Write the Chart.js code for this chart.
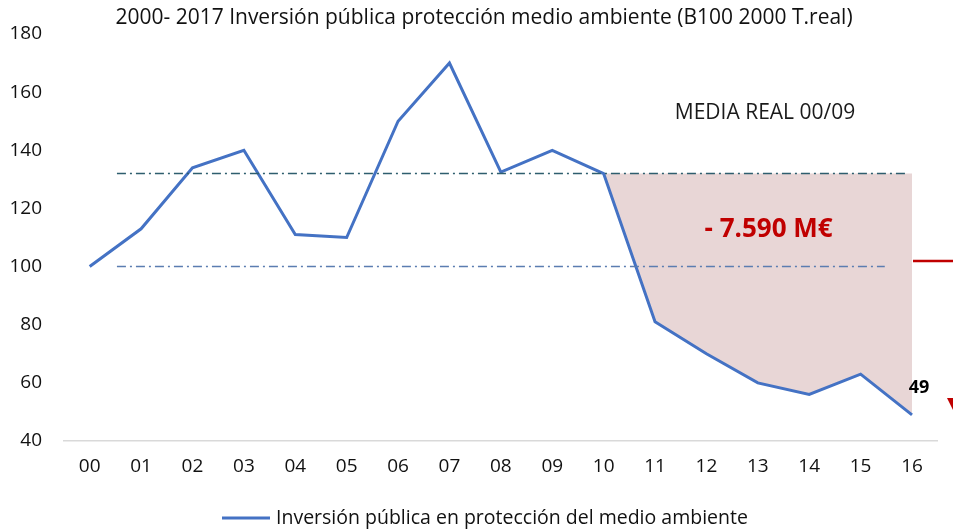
<!DOCTYPE html>
<html>
<head>
<meta charset="utf-8">
<script src="https://cdn.jsdelivr.net/npm/chart.js@4"></script>
<style>
  html, body { margin: 0; padding: 0; background: #fff; }
  #wrap { width: 953px; height: 531px; position: relative; }
</style>
</head>
<body>
<div id="wrap"><canvas id="c"></canvas></div>
<script>
// Years 2000-2016 (base 100 in 2000)
const years = ['00','01','02','03','04','05','06','07','08','09','10','11','12','13','14','15','16'];
const inversion = [100, 113, 134, 140, 111, 110, 150, 170, 132.5, 140, 132, 81, 70, 60, 56, 63, 49];
const mediaReal = 132;          // real average 00/09
const base = 100;
const firstGapYear = 10;        // shaded loss starts here
const lossLabel = '- 7.590 M€';
const mediaLabel = 'MEDIA REAL 00/09';
const titleText = '2000- 2017 Inversión pública protección medio ambiente (B100 2000 T.real)';
const legendText = 'Inversión pública en protección del medio ambiente';
const yTicks = [40, 60, 80, 100, 120, 140, 160, 180];

const FONT = "'Open Sans', 'Liberation Sans', sans-serif";
const LINE_COLOR = '#4472C4';

// Upper edge of the shaded area: the 00/09 average from 2010 onwards
const mediaEdge = years.map((_, i) => (i >= firstGapYear ? mediaReal : null));

const overlay = {
  id: 'overlay',
  afterDatasetsDraw(chart) {
    const { ctx, scales: { x, y } } = chart;
    ctx.save();
    // dash-dot reference lines
    ctx.lineWidth = 1.5;
    ctx.setLineDash([9, 4, 2, 4]);
    ctx.strokeStyle = '#2E5E6E';
    ctx.beginPath();
    ctx.moveTo(x.getPixelForValue(0.53), y.getPixelForValue(mediaReal));
    ctx.lineTo(x.getPixelForValue(15.92), y.getPixelForValue(mediaReal));
    ctx.stroke();
    ctx.strokeStyle = '#5B7DB1';
    ctx.beginPath();
    ctx.moveTo(x.getPixelForValue(0.53), y.getPixelForValue(base));
    ctx.lineTo(x.getPixelForValue(15.47), y.getPixelForValue(base));
    ctx.stroke();
    ctx.setLineDash([]);

    // red arrow stub on the right edge
    ctx.strokeStyle = '#C00000';
    ctx.lineWidth = 2.5;
    const ry = y.getPixelForValue(101.9);
    ctx.beginPath();
    ctx.moveTo(913, ry);
    ctx.lineTo(chart.width, ry);
    ctx.stroke();
    ctx.fillStyle = '#C00000';
    const ty = y.getPixelForValue(54.8);
    ctx.beginPath();
    ctx.moveTo(947, ty);
    ctx.lineTo(957, ty);
    ctx.lineTo(953, ty + 12);
    ctx.closePath();
    ctx.fill();

    // annotations
    ctx.textAlign = 'center';
    ctx.textBaseline = 'middle';
    ctx.fillStyle = '#1a1a1a';
    ctx.font = "21px " + FONT;
    ctx.fillText(mediaLabel, x.getPixelForValue(13.14), y.getPixelForValue(152.8));
    ctx.fillStyle = '#C00000';
    ctx.font = "bold 26px " + FONT;
    ctx.fillText(lossLabel, x.getPixelForValue(13.21), y.getPixelForValue(112.8));
    const last = inversion.length - 1;
    ctx.fillStyle = '#000';
    ctx.font = "bold 18px " + FONT;
    ctx.fillText(String(inversion[last]), x.getPixelForValue(last) + 7, y.getPixelForValue(inversion[last]) - 27);

    // title
    ctx.fillStyle = '#111';
    ctx.font = "21px " + FONT;
    ctx.fillText(titleText, 484, 18);

    // legend
    ctx.strokeStyle = LINE_COLOR;
    ctx.lineWidth = 3;
    ctx.beginPath();
    ctx.moveTo(222, 518);
    ctx.lineTo(270, 518);
    ctx.stroke();
    ctx.textAlign = 'left';
    ctx.font = "19.5px " + FONT;
    ctx.fillText(legendText, 276, 518);
    ctx.restore();
  }
};

new Chart(document.getElementById('c'), {
  type: 'line',
  data: {
    labels: years,
    datasets: [
      {
        label: legendText,
        data: inversion,
        borderColor: LINE_COLOR,
        borderWidth: 3,
        pointRadius: 0,
        tension: 0,
        fill: false
      },
      {
        label: 'media',
        data: mediaEdge,
        borderWidth: 0,
        borderColor: 'rgba(0,0,0,0)',
        pointRadius: 0,
        backgroundColor: '#E8D6D6',
        fill: { target: 0 }
      }
    ]
  },
  options: {
    responsive: true,
    maintainAspectRatio: false,
    animation: false,
    layout: { padding: { left: 8, right: 15.3, top: 34, bottom: 52 } },
    plugins: {
      title: { display: false },
      legend: { display: false },
      tooltip: { enabled: false }
    },
    scales: {
      x: {
        offset: true,
        afterFit: s => { s.height = 38; },
        grid: { display: false, drawTicks: false },
        border: { display: true, color: '#D9D9D9', width: 1.5 },
        ticks: { color: '#111', font: { family: FONT, size: 19 }, padding: 14 }
      },
      y: {
        min: 40,
        max: 180,
        afterFit: s => { s.width = 56; },
        afterBuildTicks: s => { s.ticks = yTicks.map(v => ({ value: v })); },
        grid: { display: false, drawTicks: false },
        border: { display: false },
        ticks: { color: '#111', font: { family: FONT, size: 19 }, padding: 22 }
      }
    }
  },
  plugins: [overlay]
});
</script>
</body>
</html>
